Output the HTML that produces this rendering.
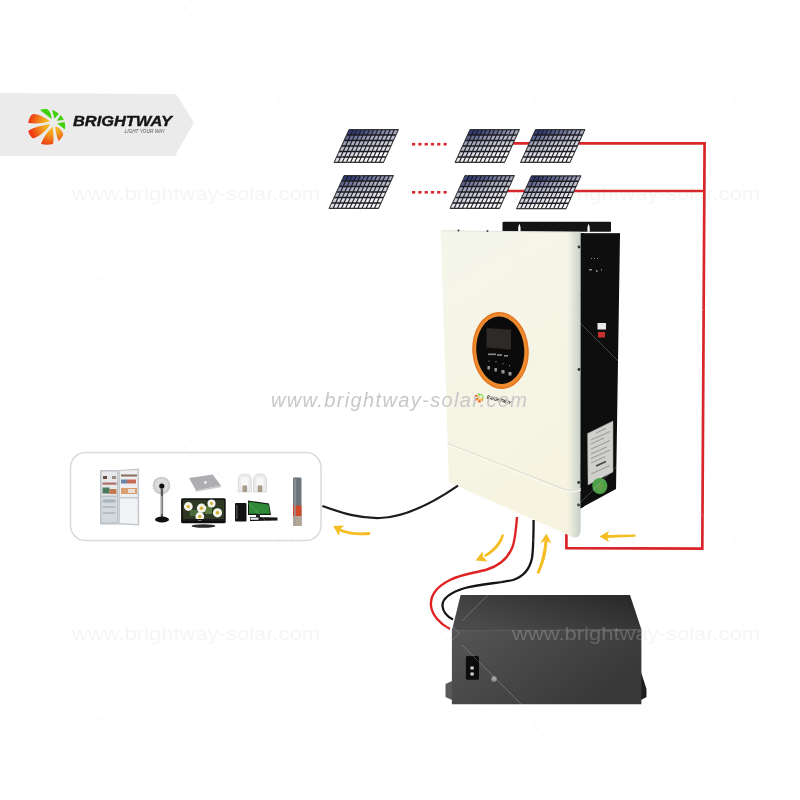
<!DOCTYPE html>
<html><head><meta charset="utf-8">
<style>
html,body{margin:0;padding:0;background:#fff;width:800px;height:800px;overflow:hidden}
svg{position:absolute;left:0;top:0;display:block;will-change:transform}
</style></head>
<body>
<svg width="800" height="800" viewBox="0 0 800 800">
<defs>
  <radialGradient id="og" cx="52.5" cy="123.5" r="23" gradientUnits="userSpaceOnUse">
    <stop offset="0" stop-color="#f6cf1c"/>
    <stop offset="0.45" stop-color="#f2a020"/>
    <stop offset="1" stop-color="#ee3a12"/>
  </radialGradient>
  <linearGradient id="bevel" x1="0" x2="1" y1="0" y2="0">
    <stop offset="0" stop-color="#f4f5e9" stop-opacity="0"/>
    <stop offset="0.45" stop-color="#e4e7da"/>
    <stop offset="0.85" stop-color="#cfd5cb"/>
    <stop offset="1" stop-color="#c4cbc2"/>
  </linearGradient>
  <linearGradient id="face" x1="0" x2="0.3" y1="0" y2="1">
    <stop offset="0" stop-color="#f5f6eb"/>
    <stop offset="1" stop-color="#f6f3e0"/>
  </linearGradient>
  <linearGradient id="battop" x1="0" x2="1" y1="0.6" y2="0">
    <stop offset="0" stop-color="#4a4a4a"/>
    <stop offset="1" stop-color="#272727"/>
  </linearGradient>
  <linearGradient id="batfront" x1="0" x2="1" y1="0" y2="0.5">
    <stop offset="0" stop-color="#555555"/>
    <stop offset="1" stop-color="#383838"/>
  </linearGradient>
  <clipPath id="batclip"><polygon points="445,594 642,594 648,705 445,705"/></clipPath>
</defs>

<!-- banner -->
<polygon points="0,93 176,94 194,122.5 175,156 0,156" fill="#ebebeb"/>
<g>
  <path d="M51.5,119 C48,116 43,112.5 40,110 C42.5,109 45,108.9 47.5,109.25 C50,111 51.5,115 51.7,119 Z" fill="#3fd00c"/>
  <path d="M54.5,118.8 L52,110 C54.5,110.5 57,112 58.75,114 Z" fill="#44d010"/>
  <path d="M56.75,120.7 L60.5,115 C62,116.5 63.2,118.3 63.75,120 Z" fill="#44d010"/>
  <path d="M57.5,123.4 L64.5,122 C65.3,124.5 65.4,127 64.8,129.5 C62.5,127.5 60,125.5 57.5,123.7 Z" fill="#3fd00c"/>
  <path d="M55.3,126.2 C59,127.5 62,130.5 63.3,134 C62.5,137 60.5,139.5 58.5,141 C56.5,136 55.5,131 55.3,126.2 Z" fill="url(#og)"/>
  <path d="M52.5,127 C53.5,132 54,139 53,144 C49,145 45,145 41,144 C43,138 47,132 52.3,127 Z" fill="url(#og)"/>
  <path d="M49.75,124.3 C44,125 34,127 28.2,131 C29,134.5 31,137 33,138.5 C40,136 46,131 49.75,125 Z" fill="url(#og)"/>
  <path d="M49.5,121 C45,117.5 40,114.5 34,114 C31,114 29,118 28.2,123 C35,124 43,123.5 49.5,121.5 Z" fill="url(#og)"/>
</g>
<text x="73" y="126" font-family="Liberation Sans" font-weight="bold" font-style="italic" font-size="15" fill="#151515" stroke="#151515" stroke-width="0.4" textLength="99" lengthAdjust="spacingAndGlyphs">BRIGHTWAY</text>
<text x="124.5" y="133.2" font-family="Liberation Sans" font-style="italic" font-size="5" fill="#555" textLength="40.5" lengthAdjust="spacingAndGlyphs">LIGHT YOUR WAY</text>

<!-- watermarks faint -->
<g font-family="Liberation Sans" font-size="19" fill="#f5f5f5">
  <text x="72" y="200" textLength="248" lengthAdjust="spacingAndGlyphs">www.brightway-solar.com</text>
  <text x="512" y="200" textLength="248" lengthAdjust="spacingAndGlyphs">www.brightway-solar.com</text>
  <text x="72" y="640" textLength="248" lengthAdjust="spacingAndGlyphs">www.brightway-solar.com</text>
  <text x="512" y="640" textLength="248" lengthAdjust="spacingAndGlyphs">www.brightway-solar.com</text>
</g>

<!-- red wires -->
<g stroke="#d8262a" stroke-width="2.7" fill="none" stroke-linejoin="miter">
  <polyline points="500,143.3 704.6,143.3"/>
  <polyline points="495,191 703.8,191"/>
  <polyline points="704.6,142 702.3,548.6 566.4,548.2 566.4,534"/>
</g>

<!-- panels -->
<polygon points="349.00,129.50 398.50,129.50 383.50,162.50 334.00,162.50" fill="#1c1c22" stroke="#2a2a2a" stroke-width="0.9"/>
<polygon points="349.29,130.22 352.18,130.22 350.33,134.28 347.44,134.28" fill="#323c73"/>
<polygon points="353.42,130.22 356.31,130.22 354.46,134.28 351.57,134.28" fill="#323c73"/>
<polygon points="357.54,130.22 360.43,130.22 358.58,134.28 355.69,134.28" fill="#394377"/>
<polygon points="361.67,130.22 364.56,130.22 362.71,134.28 359.82,134.28" fill="#454e7f"/>
<polygon points="365.79,130.22 368.68,130.22 366.83,134.28 363.94,134.28" fill="#515987"/>
<polygon points="369.92,130.22 372.81,130.22 370.96,134.28 368.07,134.28" fill="#5d648f"/>
<polygon points="374.04,130.22 376.93,130.22 375.08,134.28 372.19,134.28" fill="#696f97"/>
<polygon points="378.17,130.22 381.06,130.22 379.21,134.28 376.32,134.28" fill="#757b9e"/>
<polygon points="382.29,130.22 385.18,130.22 383.33,134.28 380.44,134.28" fill="#8186a6"/>
<polygon points="386.42,130.22 389.31,130.22 387.46,134.28 384.57,134.28" fill="#8d91ae"/>
<polygon points="390.54,130.22 393.43,130.22 391.58,134.28 388.69,134.28" fill="#999cb6"/>
<polygon points="394.67,130.22 397.56,130.22 395.71,134.28 392.82,134.28" fill="#a5a8be"/>
<polygon points="346.79,135.72 349.68,135.72 347.83,139.78 344.94,139.78" fill="#5c648e"/>
<polygon points="350.92,135.72 353.81,135.72 351.96,139.78 349.07,139.78" fill="#686f96"/>
<polygon points="355.04,135.72 357.93,135.72 356.08,139.78 353.19,139.78" fill="#747a9e"/>
<polygon points="359.17,135.72 362.06,135.72 360.21,139.78 357.32,139.78" fill="#8085a6"/>
<polygon points="363.29,135.72 366.18,135.72 364.33,139.78 361.44,139.78" fill="#8c90ae"/>
<polygon points="367.42,135.72 370.31,135.72 368.46,139.78 365.57,139.78" fill="#989cb5"/>
<polygon points="371.54,135.72 374.43,135.72 372.58,139.78 369.69,139.78" fill="#a4a7bd"/>
<polygon points="375.67,135.72 378.56,135.72 376.71,139.78 373.82,139.78" fill="#a9acc0"/>
<polygon points="379.79,135.72 382.68,135.72 380.83,139.78 377.94,139.78" fill="#adb0c4"/>
<polygon points="383.92,135.72 386.81,135.72 384.96,139.78 382.07,139.78" fill="#b2b4c7"/>
<polygon points="388.04,135.72 390.93,135.72 389.08,139.78 386.19,139.78" fill="#b6b9ca"/>
<polygon points="392.17,135.72 395.06,135.72 393.21,139.78 390.32,139.78" fill="#bbbdcd"/>
<polygon points="344.29,141.22 347.18,141.22 345.33,145.28 342.44,145.28" fill="#979bb5"/>
<polygon points="348.42,141.22 351.31,141.22 349.46,145.28 346.57,145.28" fill="#a3a6bd"/>
<polygon points="352.54,141.22 355.43,141.22 353.58,145.28 350.69,145.28" fill="#a9abc0"/>
<polygon points="356.67,141.22 359.56,141.22 357.71,145.28 354.82,145.28" fill="#adb0c3"/>
<polygon points="360.79,141.22 363.68,141.22 361.83,145.28 358.94,145.28" fill="#b1b4c7"/>
<polygon points="364.92,141.22 367.81,141.22 365.96,145.28 363.07,145.28" fill="#b6b8ca"/>
<polygon points="369.04,141.22 371.93,141.22 370.08,145.28 367.19,145.28" fill="#babdcd"/>
<polygon points="373.17,141.22 376.06,141.22 374.21,145.28 371.32,145.28" fill="#bfc1d0"/>
<polygon points="377.29,141.22 380.18,141.22 378.33,145.28 375.44,145.28" fill="#c3c5d3"/>
<polygon points="381.42,141.22 384.31,141.22 382.46,145.28 379.57,145.28" fill="#c8cad6"/>
<polygon points="385.54,141.22 388.43,141.22 386.58,145.28 383.69,145.28" fill="#ccced9"/>
<polygon points="389.67,141.22 392.56,141.22 390.71,145.28 387.82,145.28" fill="#d1d2dd"/>
<polygon points="341.79,146.72 344.68,146.72 342.83,150.78 339.94,150.78" fill="#b6b8ca"/>
<polygon points="345.92,146.72 348.81,146.72 346.96,150.78 344.07,150.78" fill="#babccd"/>
<polygon points="350.04,146.72 352.93,146.72 351.08,150.78 348.19,150.78" fill="#bfc1d0"/>
<polygon points="354.17,146.72 357.06,146.72 355.21,150.78 352.32,150.78" fill="#c3c5d3"/>
<polygon points="358.29,146.72 361.18,146.72 359.33,150.78 356.44,150.78" fill="#c8c9d6"/>
<polygon points="362.42,146.72 365.31,146.72 363.46,150.78 360.57,150.78" fill="#ccced9"/>
<polygon points="366.54,146.72 369.43,146.72 367.58,150.78 364.69,150.78" fill="#d1d2dc"/>
<polygon points="370.67,146.72 373.56,146.72 371.71,150.78 368.82,150.78" fill="#d5d6df"/>
<polygon points="374.79,146.72 377.68,146.72 375.83,150.78 372.94,150.78" fill="#dadbe3"/>
<polygon points="378.92,146.72 381.81,146.72 379.96,150.78 377.07,150.78" fill="#dedfe6"/>
<polygon points="383.04,146.72 385.93,146.72 384.08,150.78 381.19,150.78" fill="#e2e3e9"/>
<polygon points="387.17,146.72 390.06,146.72 388.21,150.78 385.32,150.78" fill="#e7e7ec"/>
<polygon points="339.29,152.22 342.18,152.22 340.33,156.28 337.44,156.28" fill="#cccdd9"/>
<polygon points="343.42,152.22 346.31,152.22 344.46,156.28 341.57,156.28" fill="#d0d2dc"/>
<polygon points="347.54,152.22 350.43,152.22 348.58,156.28 345.69,156.28" fill="#d5d6df"/>
<polygon points="351.67,152.22 354.56,152.22 352.71,156.28 349.82,156.28" fill="#d9dae2"/>
<polygon points="355.79,152.22 358.68,152.22 356.83,156.28 353.94,156.28" fill="#dedfe6"/>
<polygon points="359.92,152.22 362.81,152.22 360.96,156.28 358.07,156.28" fill="#e2e3e9"/>
<polygon points="364.04,152.22 366.93,152.22 365.08,156.28 362.19,156.28" fill="#e7e7ec"/>
<polygon points="368.17,152.22 371.06,152.22 369.21,156.28 366.32,156.28" fill="#ebecef"/>
<polygon points="372.29,152.22 375.18,152.22 373.33,156.28 370.44,156.28" fill="#f0f0f2"/>
<polygon points="376.42,152.22 379.31,152.22 377.46,156.28 374.57,156.28" fill="#f4f4f5"/>
<polygon points="380.54,152.22 383.43,152.22 381.58,156.28 378.69,156.28" fill="#f5f5f6"/>
<polygon points="384.67,152.22 387.56,152.22 385.71,156.28 382.82,156.28" fill="#f5f5f6"/>
<polygon points="336.79,157.72 339.68,157.72 337.83,161.78 334.94,161.78" fill="#e2e3e9"/>
<polygon points="340.92,157.72 343.81,157.72 341.96,161.78 339.07,161.78" fill="#e7e7ec"/>
<polygon points="345.04,157.72 347.93,157.72 346.08,161.78 343.19,161.78" fill="#ebebef"/>
<polygon points="349.17,157.72 352.06,157.72 350.21,161.78 347.32,161.78" fill="#eff0f2"/>
<polygon points="353.29,157.72 356.18,157.72 354.33,161.78 351.44,161.78" fill="#f4f4f5"/>
<polygon points="357.42,157.72 360.31,157.72 358.46,161.78 355.57,161.78" fill="#f5f5f6"/>
<polygon points="361.54,157.72 364.43,157.72 362.58,161.78 359.69,161.78" fill="#f5f5f6"/>
<polygon points="365.67,157.72 368.56,157.72 366.71,161.78 363.82,161.78" fill="#f5f5f6"/>
<polygon points="369.79,157.72 372.68,157.72 370.83,161.78 367.94,161.78" fill="#f5f5f6"/>
<polygon points="373.92,157.72 376.81,157.72 374.96,161.78 372.07,161.78" fill="#f5f5f6"/>
<polygon points="378.04,157.72 380.93,157.72 379.08,161.78 376.19,161.78" fill="#f5f5f6"/>
<polygon points="382.17,157.72 385.06,157.72 383.21,161.78 380.32,161.78" fill="#f5f5f6"/>
<polygon points="470.00,129.50 519.50,129.50 504.50,162.50 455.00,162.50" fill="#1c1c22" stroke="#2a2a2a" stroke-width="0.9"/>
<polygon points="470.29,130.22 473.18,130.22 471.33,134.28 468.44,134.28" fill="#323c73"/>
<polygon points="474.42,130.22 477.31,130.22 475.46,134.28 472.57,134.28" fill="#323c73"/>
<polygon points="478.54,130.22 481.43,130.22 479.58,134.28 476.69,134.28" fill="#394377"/>
<polygon points="482.67,130.22 485.56,130.22 483.71,134.28 480.82,134.28" fill="#454e7f"/>
<polygon points="486.79,130.22 489.68,130.22 487.83,134.28 484.94,134.28" fill="#515987"/>
<polygon points="490.92,130.22 493.81,130.22 491.96,134.28 489.07,134.28" fill="#5d648f"/>
<polygon points="495.04,130.22 497.93,130.22 496.08,134.28 493.19,134.28" fill="#696f97"/>
<polygon points="499.17,130.22 502.06,130.22 500.21,134.28 497.32,134.28" fill="#757b9e"/>
<polygon points="503.29,130.22 506.18,130.22 504.33,134.28 501.44,134.28" fill="#8186a6"/>
<polygon points="507.42,130.22 510.31,130.22 508.46,134.28 505.57,134.28" fill="#8d91ae"/>
<polygon points="511.54,130.22 514.43,130.22 512.58,134.28 509.69,134.28" fill="#999cb6"/>
<polygon points="515.67,130.22 518.56,130.22 516.71,134.28 513.82,134.28" fill="#a5a8be"/>
<polygon points="467.79,135.72 470.68,135.72 468.83,139.78 465.94,139.78" fill="#5c648e"/>
<polygon points="471.92,135.72 474.81,135.72 472.96,139.78 470.07,139.78" fill="#686f96"/>
<polygon points="476.04,135.72 478.93,135.72 477.08,139.78 474.19,139.78" fill="#747a9e"/>
<polygon points="480.17,135.72 483.06,135.72 481.21,139.78 478.32,139.78" fill="#8085a6"/>
<polygon points="484.29,135.72 487.18,135.72 485.33,139.78 482.44,139.78" fill="#8c90ae"/>
<polygon points="488.42,135.72 491.31,135.72 489.46,139.78 486.57,139.78" fill="#989cb5"/>
<polygon points="492.54,135.72 495.43,135.72 493.58,139.78 490.69,139.78" fill="#a4a7bd"/>
<polygon points="496.67,135.72 499.56,135.72 497.71,139.78 494.82,139.78" fill="#a9acc0"/>
<polygon points="500.79,135.72 503.68,135.72 501.83,139.78 498.94,139.78" fill="#adb0c4"/>
<polygon points="504.92,135.72 507.81,135.72 505.96,139.78 503.07,139.78" fill="#b2b4c7"/>
<polygon points="509.04,135.72 511.93,135.72 510.08,139.78 507.19,139.78" fill="#b6b9ca"/>
<polygon points="513.17,135.72 516.06,135.72 514.21,139.78 511.32,139.78" fill="#bbbdcd"/>
<polygon points="465.29,141.22 468.18,141.22 466.33,145.28 463.44,145.28" fill="#979bb5"/>
<polygon points="469.42,141.22 472.31,141.22 470.46,145.28 467.57,145.28" fill="#a3a6bd"/>
<polygon points="473.54,141.22 476.43,141.22 474.58,145.28 471.69,145.28" fill="#a9abc0"/>
<polygon points="477.67,141.22 480.56,141.22 478.71,145.28 475.82,145.28" fill="#adb0c3"/>
<polygon points="481.79,141.22 484.68,141.22 482.83,145.28 479.94,145.28" fill="#b1b4c7"/>
<polygon points="485.92,141.22 488.81,141.22 486.96,145.28 484.07,145.28" fill="#b6b8ca"/>
<polygon points="490.04,141.22 492.93,141.22 491.08,145.28 488.19,145.28" fill="#babdcd"/>
<polygon points="494.17,141.22 497.06,141.22 495.21,145.28 492.32,145.28" fill="#bfc1d0"/>
<polygon points="498.29,141.22 501.18,141.22 499.33,145.28 496.44,145.28" fill="#c3c5d3"/>
<polygon points="502.42,141.22 505.31,141.22 503.46,145.28 500.57,145.28" fill="#c8cad6"/>
<polygon points="506.54,141.22 509.43,141.22 507.58,145.28 504.69,145.28" fill="#ccced9"/>
<polygon points="510.67,141.22 513.56,141.22 511.71,145.28 508.82,145.28" fill="#d1d2dd"/>
<polygon points="462.79,146.72 465.68,146.72 463.83,150.78 460.94,150.78" fill="#b6b8ca"/>
<polygon points="466.92,146.72 469.81,146.72 467.96,150.78 465.07,150.78" fill="#babccd"/>
<polygon points="471.04,146.72 473.93,146.72 472.08,150.78 469.19,150.78" fill="#bfc1d0"/>
<polygon points="475.17,146.72 478.06,146.72 476.21,150.78 473.32,150.78" fill="#c3c5d3"/>
<polygon points="479.29,146.72 482.18,146.72 480.33,150.78 477.44,150.78" fill="#c8c9d6"/>
<polygon points="483.42,146.72 486.31,146.72 484.46,150.78 481.57,150.78" fill="#ccced9"/>
<polygon points="487.54,146.72 490.43,146.72 488.58,150.78 485.69,150.78" fill="#d1d2dc"/>
<polygon points="491.67,146.72 494.56,146.72 492.71,150.78 489.82,150.78" fill="#d5d6df"/>
<polygon points="495.79,146.72 498.68,146.72 496.83,150.78 493.94,150.78" fill="#dadbe3"/>
<polygon points="499.92,146.72 502.81,146.72 500.96,150.78 498.07,150.78" fill="#dedfe6"/>
<polygon points="504.04,146.72 506.93,146.72 505.08,150.78 502.19,150.78" fill="#e2e3e9"/>
<polygon points="508.17,146.72 511.06,146.72 509.21,150.78 506.32,150.78" fill="#e7e7ec"/>
<polygon points="460.29,152.22 463.18,152.22 461.33,156.28 458.44,156.28" fill="#cccdd9"/>
<polygon points="464.42,152.22 467.31,152.22 465.46,156.28 462.57,156.28" fill="#d0d2dc"/>
<polygon points="468.54,152.22 471.43,152.22 469.58,156.28 466.69,156.28" fill="#d5d6df"/>
<polygon points="472.67,152.22 475.56,152.22 473.71,156.28 470.82,156.28" fill="#d9dae2"/>
<polygon points="476.79,152.22 479.68,152.22 477.83,156.28 474.94,156.28" fill="#dedfe6"/>
<polygon points="480.92,152.22 483.81,152.22 481.96,156.28 479.07,156.28" fill="#e2e3e9"/>
<polygon points="485.04,152.22 487.93,152.22 486.08,156.28 483.19,156.28" fill="#e7e7ec"/>
<polygon points="489.17,152.22 492.06,152.22 490.21,156.28 487.32,156.28" fill="#ebecef"/>
<polygon points="493.29,152.22 496.18,152.22 494.33,156.28 491.44,156.28" fill="#f0f0f2"/>
<polygon points="497.42,152.22 500.31,152.22 498.46,156.28 495.57,156.28" fill="#f4f4f5"/>
<polygon points="501.54,152.22 504.43,152.22 502.58,156.28 499.69,156.28" fill="#f5f5f6"/>
<polygon points="505.67,152.22 508.56,152.22 506.71,156.28 503.82,156.28" fill="#f5f5f6"/>
<polygon points="457.79,157.72 460.68,157.72 458.83,161.78 455.94,161.78" fill="#e2e3e9"/>
<polygon points="461.92,157.72 464.81,157.72 462.96,161.78 460.07,161.78" fill="#e7e7ec"/>
<polygon points="466.04,157.72 468.93,157.72 467.08,161.78 464.19,161.78" fill="#ebebef"/>
<polygon points="470.17,157.72 473.06,157.72 471.21,161.78 468.32,161.78" fill="#eff0f2"/>
<polygon points="474.29,157.72 477.18,157.72 475.33,161.78 472.44,161.78" fill="#f4f4f5"/>
<polygon points="478.42,157.72 481.31,157.72 479.46,161.78 476.57,161.78" fill="#f5f5f6"/>
<polygon points="482.54,157.72 485.43,157.72 483.58,161.78 480.69,161.78" fill="#f5f5f6"/>
<polygon points="486.67,157.72 489.56,157.72 487.71,161.78 484.82,161.78" fill="#f5f5f6"/>
<polygon points="490.79,157.72 493.68,157.72 491.83,161.78 488.94,161.78" fill="#f5f5f6"/>
<polygon points="494.92,157.72 497.81,157.72 495.96,161.78 493.07,161.78" fill="#f5f5f6"/>
<polygon points="499.04,157.72 501.93,157.72 500.08,161.78 497.19,161.78" fill="#f5f5f6"/>
<polygon points="503.17,157.72 506.06,157.72 504.21,161.78 501.32,161.78" fill="#f5f5f6"/>
<polygon points="535.50,129.50 585.00,129.50 570.00,162.50 520.50,162.50" fill="#1c1c22" stroke="#2a2a2a" stroke-width="0.9"/>
<polygon points="535.79,130.22 538.68,130.22 536.83,134.28 533.94,134.28" fill="#323c73"/>
<polygon points="539.92,130.22 542.81,130.22 540.96,134.28 538.07,134.28" fill="#323c73"/>
<polygon points="544.04,130.22 546.93,130.22 545.08,134.28 542.19,134.28" fill="#394377"/>
<polygon points="548.17,130.22 551.06,130.22 549.21,134.28 546.32,134.28" fill="#454e7f"/>
<polygon points="552.29,130.22 555.18,130.22 553.33,134.28 550.44,134.28" fill="#515987"/>
<polygon points="556.42,130.22 559.31,130.22 557.46,134.28 554.57,134.28" fill="#5d648f"/>
<polygon points="560.54,130.22 563.43,130.22 561.58,134.28 558.69,134.28" fill="#696f97"/>
<polygon points="564.67,130.22 567.56,130.22 565.71,134.28 562.82,134.28" fill="#757b9e"/>
<polygon points="568.79,130.22 571.68,130.22 569.83,134.28 566.94,134.28" fill="#8186a6"/>
<polygon points="572.92,130.22 575.81,130.22 573.96,134.28 571.07,134.28" fill="#8d91ae"/>
<polygon points="577.04,130.22 579.93,130.22 578.08,134.28 575.19,134.28" fill="#999cb6"/>
<polygon points="581.17,130.22 584.06,130.22 582.21,134.28 579.32,134.28" fill="#a5a8be"/>
<polygon points="533.29,135.72 536.18,135.72 534.33,139.78 531.44,139.78" fill="#5c648e"/>
<polygon points="537.42,135.72 540.31,135.72 538.46,139.78 535.57,139.78" fill="#686f96"/>
<polygon points="541.54,135.72 544.43,135.72 542.58,139.78 539.69,139.78" fill="#747a9e"/>
<polygon points="545.67,135.72 548.56,135.72 546.71,139.78 543.82,139.78" fill="#8085a6"/>
<polygon points="549.79,135.72 552.68,135.72 550.83,139.78 547.94,139.78" fill="#8c90ae"/>
<polygon points="553.92,135.72 556.81,135.72 554.96,139.78 552.07,139.78" fill="#989cb5"/>
<polygon points="558.04,135.72 560.93,135.72 559.08,139.78 556.19,139.78" fill="#a4a7bd"/>
<polygon points="562.17,135.72 565.06,135.72 563.21,139.78 560.32,139.78" fill="#a9acc0"/>
<polygon points="566.29,135.72 569.18,135.72 567.33,139.78 564.44,139.78" fill="#adb0c4"/>
<polygon points="570.42,135.72 573.31,135.72 571.46,139.78 568.57,139.78" fill="#b2b4c7"/>
<polygon points="574.54,135.72 577.43,135.72 575.58,139.78 572.69,139.78" fill="#b6b9ca"/>
<polygon points="578.67,135.72 581.56,135.72 579.71,139.78 576.82,139.78" fill="#bbbdcd"/>
<polygon points="530.79,141.22 533.68,141.22 531.83,145.28 528.94,145.28" fill="#979bb5"/>
<polygon points="534.92,141.22 537.81,141.22 535.96,145.28 533.07,145.28" fill="#a3a6bd"/>
<polygon points="539.04,141.22 541.93,141.22 540.08,145.28 537.19,145.28" fill="#a9abc0"/>
<polygon points="543.17,141.22 546.06,141.22 544.21,145.28 541.32,145.28" fill="#adb0c3"/>
<polygon points="547.29,141.22 550.18,141.22 548.33,145.28 545.44,145.28" fill="#b1b4c7"/>
<polygon points="551.42,141.22 554.31,141.22 552.46,145.28 549.57,145.28" fill="#b6b8ca"/>
<polygon points="555.54,141.22 558.43,141.22 556.58,145.28 553.69,145.28" fill="#babdcd"/>
<polygon points="559.67,141.22 562.56,141.22 560.71,145.28 557.82,145.28" fill="#bfc1d0"/>
<polygon points="563.79,141.22 566.68,141.22 564.83,145.28 561.94,145.28" fill="#c3c5d3"/>
<polygon points="567.92,141.22 570.81,141.22 568.96,145.28 566.07,145.28" fill="#c8cad6"/>
<polygon points="572.04,141.22 574.93,141.22 573.08,145.28 570.19,145.28" fill="#ccced9"/>
<polygon points="576.17,141.22 579.06,141.22 577.21,145.28 574.32,145.28" fill="#d1d2dd"/>
<polygon points="528.29,146.72 531.18,146.72 529.33,150.78 526.44,150.78" fill="#b6b8ca"/>
<polygon points="532.42,146.72 535.31,146.72 533.46,150.78 530.57,150.78" fill="#babccd"/>
<polygon points="536.54,146.72 539.43,146.72 537.58,150.78 534.69,150.78" fill="#bfc1d0"/>
<polygon points="540.67,146.72 543.56,146.72 541.71,150.78 538.82,150.78" fill="#c3c5d3"/>
<polygon points="544.79,146.72 547.68,146.72 545.83,150.78 542.94,150.78" fill="#c8c9d6"/>
<polygon points="548.92,146.72 551.81,146.72 549.96,150.78 547.07,150.78" fill="#ccced9"/>
<polygon points="553.04,146.72 555.93,146.72 554.08,150.78 551.19,150.78" fill="#d1d2dc"/>
<polygon points="557.17,146.72 560.06,146.72 558.21,150.78 555.32,150.78" fill="#d5d6df"/>
<polygon points="561.29,146.72 564.18,146.72 562.33,150.78 559.44,150.78" fill="#dadbe3"/>
<polygon points="565.42,146.72 568.31,146.72 566.46,150.78 563.57,150.78" fill="#dedfe6"/>
<polygon points="569.54,146.72 572.43,146.72 570.58,150.78 567.69,150.78" fill="#e2e3e9"/>
<polygon points="573.67,146.72 576.56,146.72 574.71,150.78 571.82,150.78" fill="#e7e7ec"/>
<polygon points="525.79,152.22 528.68,152.22 526.83,156.28 523.94,156.28" fill="#cccdd9"/>
<polygon points="529.92,152.22 532.81,152.22 530.96,156.28 528.07,156.28" fill="#d0d2dc"/>
<polygon points="534.04,152.22 536.93,152.22 535.08,156.28 532.19,156.28" fill="#d5d6df"/>
<polygon points="538.17,152.22 541.06,152.22 539.21,156.28 536.32,156.28" fill="#d9dae2"/>
<polygon points="542.29,152.22 545.18,152.22 543.33,156.28 540.44,156.28" fill="#dedfe6"/>
<polygon points="546.42,152.22 549.31,152.22 547.46,156.28 544.57,156.28" fill="#e2e3e9"/>
<polygon points="550.54,152.22 553.43,152.22 551.58,156.28 548.69,156.28" fill="#e7e7ec"/>
<polygon points="554.67,152.22 557.56,152.22 555.71,156.28 552.82,156.28" fill="#ebecef"/>
<polygon points="558.79,152.22 561.68,152.22 559.83,156.28 556.94,156.28" fill="#f0f0f2"/>
<polygon points="562.92,152.22 565.81,152.22 563.96,156.28 561.07,156.28" fill="#f4f4f5"/>
<polygon points="567.04,152.22 569.93,152.22 568.08,156.28 565.19,156.28" fill="#f5f5f6"/>
<polygon points="571.17,152.22 574.06,152.22 572.21,156.28 569.32,156.28" fill="#f5f5f6"/>
<polygon points="523.29,157.72 526.18,157.72 524.33,161.78 521.44,161.78" fill="#e2e3e9"/>
<polygon points="527.42,157.72 530.31,157.72 528.46,161.78 525.57,161.78" fill="#e7e7ec"/>
<polygon points="531.54,157.72 534.43,157.72 532.58,161.78 529.69,161.78" fill="#ebebef"/>
<polygon points="535.67,157.72 538.56,157.72 536.71,161.78 533.82,161.78" fill="#eff0f2"/>
<polygon points="539.79,157.72 542.68,157.72 540.83,161.78 537.94,161.78" fill="#f4f4f5"/>
<polygon points="543.92,157.72 546.81,157.72 544.96,161.78 542.07,161.78" fill="#f5f5f6"/>
<polygon points="548.04,157.72 550.93,157.72 549.08,161.78 546.19,161.78" fill="#f5f5f6"/>
<polygon points="552.17,157.72 555.06,157.72 553.21,161.78 550.32,161.78" fill="#f5f5f6"/>
<polygon points="556.29,157.72 559.18,157.72 557.33,161.78 554.44,161.78" fill="#f5f5f6"/>
<polygon points="560.42,157.72 563.31,157.72 561.46,161.78 558.57,161.78" fill="#f5f5f6"/>
<polygon points="564.54,157.72 567.43,157.72 565.58,161.78 562.69,161.78" fill="#f5f5f6"/>
<polygon points="568.67,157.72 571.56,157.72 569.71,161.78 566.82,161.78" fill="#f5f5f6"/>
<polygon points="344.00,175.50 393.50,175.50 378.50,208.50 329.00,208.50" fill="#1c1c22" stroke="#2a2a2a" stroke-width="0.9"/>
<polygon points="344.29,176.22 347.18,176.22 345.33,180.28 342.44,180.28" fill="#323c73"/>
<polygon points="348.42,176.22 351.31,176.22 349.46,180.28 346.57,180.28" fill="#323c73"/>
<polygon points="352.54,176.22 355.43,176.22 353.58,180.28 350.69,180.28" fill="#394377"/>
<polygon points="356.67,176.22 359.56,176.22 357.71,180.28 354.82,180.28" fill="#454e7f"/>
<polygon points="360.79,176.22 363.68,176.22 361.83,180.28 358.94,180.28" fill="#515987"/>
<polygon points="364.92,176.22 367.81,176.22 365.96,180.28 363.07,180.28" fill="#5d648f"/>
<polygon points="369.04,176.22 371.93,176.22 370.08,180.28 367.19,180.28" fill="#696f97"/>
<polygon points="373.17,176.22 376.06,176.22 374.21,180.28 371.32,180.28" fill="#757b9e"/>
<polygon points="377.29,176.22 380.18,176.22 378.33,180.28 375.44,180.28" fill="#8186a6"/>
<polygon points="381.42,176.22 384.31,176.22 382.46,180.28 379.57,180.28" fill="#8d91ae"/>
<polygon points="385.54,176.22 388.43,176.22 386.58,180.28 383.69,180.28" fill="#999cb6"/>
<polygon points="389.67,176.22 392.56,176.22 390.71,180.28 387.82,180.28" fill="#a5a8be"/>
<polygon points="341.79,181.72 344.68,181.72 342.83,185.78 339.94,185.78" fill="#5c648e"/>
<polygon points="345.92,181.72 348.81,181.72 346.96,185.78 344.07,185.78" fill="#686f96"/>
<polygon points="350.04,181.72 352.93,181.72 351.08,185.78 348.19,185.78" fill="#747a9e"/>
<polygon points="354.17,181.72 357.06,181.72 355.21,185.78 352.32,185.78" fill="#8085a6"/>
<polygon points="358.29,181.72 361.18,181.72 359.33,185.78 356.44,185.78" fill="#8c90ae"/>
<polygon points="362.42,181.72 365.31,181.72 363.46,185.78 360.57,185.78" fill="#989cb5"/>
<polygon points="366.54,181.72 369.43,181.72 367.58,185.78 364.69,185.78" fill="#a4a7bd"/>
<polygon points="370.67,181.72 373.56,181.72 371.71,185.78 368.82,185.78" fill="#a9acc0"/>
<polygon points="374.79,181.72 377.68,181.72 375.83,185.78 372.94,185.78" fill="#adb0c4"/>
<polygon points="378.92,181.72 381.81,181.72 379.96,185.78 377.07,185.78" fill="#b2b4c7"/>
<polygon points="383.04,181.72 385.93,181.72 384.08,185.78 381.19,185.78" fill="#b6b9ca"/>
<polygon points="387.17,181.72 390.06,181.72 388.21,185.78 385.32,185.78" fill="#bbbdcd"/>
<polygon points="339.29,187.22 342.18,187.22 340.33,191.28 337.44,191.28" fill="#979bb5"/>
<polygon points="343.42,187.22 346.31,187.22 344.46,191.28 341.57,191.28" fill="#a3a6bd"/>
<polygon points="347.54,187.22 350.43,187.22 348.58,191.28 345.69,191.28" fill="#a9abc0"/>
<polygon points="351.67,187.22 354.56,187.22 352.71,191.28 349.82,191.28" fill="#adb0c3"/>
<polygon points="355.79,187.22 358.68,187.22 356.83,191.28 353.94,191.28" fill="#b1b4c7"/>
<polygon points="359.92,187.22 362.81,187.22 360.96,191.28 358.07,191.28" fill="#b6b8ca"/>
<polygon points="364.04,187.22 366.93,187.22 365.08,191.28 362.19,191.28" fill="#babdcd"/>
<polygon points="368.17,187.22 371.06,187.22 369.21,191.28 366.32,191.28" fill="#bfc1d0"/>
<polygon points="372.29,187.22 375.18,187.22 373.33,191.28 370.44,191.28" fill="#c3c5d3"/>
<polygon points="376.42,187.22 379.31,187.22 377.46,191.28 374.57,191.28" fill="#c8cad6"/>
<polygon points="380.54,187.22 383.43,187.22 381.58,191.28 378.69,191.28" fill="#ccced9"/>
<polygon points="384.67,187.22 387.56,187.22 385.71,191.28 382.82,191.28" fill="#d1d2dd"/>
<polygon points="336.79,192.72 339.68,192.72 337.83,196.78 334.94,196.78" fill="#b6b8ca"/>
<polygon points="340.92,192.72 343.81,192.72 341.96,196.78 339.07,196.78" fill="#babccd"/>
<polygon points="345.04,192.72 347.93,192.72 346.08,196.78 343.19,196.78" fill="#bfc1d0"/>
<polygon points="349.17,192.72 352.06,192.72 350.21,196.78 347.32,196.78" fill="#c3c5d3"/>
<polygon points="353.29,192.72 356.18,192.72 354.33,196.78 351.44,196.78" fill="#c8c9d6"/>
<polygon points="357.42,192.72 360.31,192.72 358.46,196.78 355.57,196.78" fill="#ccced9"/>
<polygon points="361.54,192.72 364.43,192.72 362.58,196.78 359.69,196.78" fill="#d1d2dc"/>
<polygon points="365.67,192.72 368.56,192.72 366.71,196.78 363.82,196.78" fill="#d5d6df"/>
<polygon points="369.79,192.72 372.68,192.72 370.83,196.78 367.94,196.78" fill="#dadbe3"/>
<polygon points="373.92,192.72 376.81,192.72 374.96,196.78 372.07,196.78" fill="#dedfe6"/>
<polygon points="378.04,192.72 380.93,192.72 379.08,196.78 376.19,196.78" fill="#e2e3e9"/>
<polygon points="382.17,192.72 385.06,192.72 383.21,196.78 380.32,196.78" fill="#e7e7ec"/>
<polygon points="334.29,198.22 337.18,198.22 335.33,202.28 332.44,202.28" fill="#cccdd9"/>
<polygon points="338.42,198.22 341.31,198.22 339.46,202.28 336.57,202.28" fill="#d0d2dc"/>
<polygon points="342.54,198.22 345.43,198.22 343.58,202.28 340.69,202.28" fill="#d5d6df"/>
<polygon points="346.67,198.22 349.56,198.22 347.71,202.28 344.82,202.28" fill="#d9dae2"/>
<polygon points="350.79,198.22 353.68,198.22 351.83,202.28 348.94,202.28" fill="#dedfe6"/>
<polygon points="354.92,198.22 357.81,198.22 355.96,202.28 353.07,202.28" fill="#e2e3e9"/>
<polygon points="359.04,198.22 361.93,198.22 360.08,202.28 357.19,202.28" fill="#e7e7ec"/>
<polygon points="363.17,198.22 366.06,198.22 364.21,202.28 361.32,202.28" fill="#ebecef"/>
<polygon points="367.29,198.22 370.18,198.22 368.33,202.28 365.44,202.28" fill="#f0f0f2"/>
<polygon points="371.42,198.22 374.31,198.22 372.46,202.28 369.57,202.28" fill="#f4f4f5"/>
<polygon points="375.54,198.22 378.43,198.22 376.58,202.28 373.69,202.28" fill="#f5f5f6"/>
<polygon points="379.67,198.22 382.56,198.22 380.71,202.28 377.82,202.28" fill="#f5f5f6"/>
<polygon points="331.79,203.72 334.68,203.72 332.83,207.78 329.94,207.78" fill="#e2e3e9"/>
<polygon points="335.92,203.72 338.81,203.72 336.96,207.78 334.07,207.78" fill="#e7e7ec"/>
<polygon points="340.04,203.72 342.93,203.72 341.08,207.78 338.19,207.78" fill="#ebebef"/>
<polygon points="344.17,203.72 347.06,203.72 345.21,207.78 342.32,207.78" fill="#eff0f2"/>
<polygon points="348.29,203.72 351.18,203.72 349.33,207.78 346.44,207.78" fill="#f4f4f5"/>
<polygon points="352.42,203.72 355.31,203.72 353.46,207.78 350.57,207.78" fill="#f5f5f6"/>
<polygon points="356.54,203.72 359.43,203.72 357.58,207.78 354.69,207.78" fill="#f5f5f6"/>
<polygon points="360.67,203.72 363.56,203.72 361.71,207.78 358.82,207.78" fill="#f5f5f6"/>
<polygon points="364.79,203.72 367.68,203.72 365.83,207.78 362.94,207.78" fill="#f5f5f6"/>
<polygon points="368.92,203.72 371.81,203.72 369.96,207.78 367.07,207.78" fill="#f5f5f6"/>
<polygon points="373.04,203.72 375.93,203.72 374.08,207.78 371.19,207.78" fill="#f5f5f6"/>
<polygon points="377.17,203.72 380.06,203.72 378.21,207.78 375.32,207.78" fill="#f5f5f6"/>
<polygon points="465.00,175.50 514.50,175.50 499.50,208.50 450.00,208.50" fill="#1c1c22" stroke="#2a2a2a" stroke-width="0.9"/>
<polygon points="465.29,176.22 468.18,176.22 466.33,180.28 463.44,180.28" fill="#323c73"/>
<polygon points="469.42,176.22 472.31,176.22 470.46,180.28 467.57,180.28" fill="#323c73"/>
<polygon points="473.54,176.22 476.43,176.22 474.58,180.28 471.69,180.28" fill="#394377"/>
<polygon points="477.67,176.22 480.56,176.22 478.71,180.28 475.82,180.28" fill="#454e7f"/>
<polygon points="481.79,176.22 484.68,176.22 482.83,180.28 479.94,180.28" fill="#515987"/>
<polygon points="485.92,176.22 488.81,176.22 486.96,180.28 484.07,180.28" fill="#5d648f"/>
<polygon points="490.04,176.22 492.93,176.22 491.08,180.28 488.19,180.28" fill="#696f97"/>
<polygon points="494.17,176.22 497.06,176.22 495.21,180.28 492.32,180.28" fill="#757b9e"/>
<polygon points="498.29,176.22 501.18,176.22 499.33,180.28 496.44,180.28" fill="#8186a6"/>
<polygon points="502.42,176.22 505.31,176.22 503.46,180.28 500.57,180.28" fill="#8d91ae"/>
<polygon points="506.54,176.22 509.43,176.22 507.58,180.28 504.69,180.28" fill="#999cb6"/>
<polygon points="510.67,176.22 513.56,176.22 511.71,180.28 508.82,180.28" fill="#a5a8be"/>
<polygon points="462.79,181.72 465.68,181.72 463.83,185.78 460.94,185.78" fill="#5c648e"/>
<polygon points="466.92,181.72 469.81,181.72 467.96,185.78 465.07,185.78" fill="#686f96"/>
<polygon points="471.04,181.72 473.93,181.72 472.08,185.78 469.19,185.78" fill="#747a9e"/>
<polygon points="475.17,181.72 478.06,181.72 476.21,185.78 473.32,185.78" fill="#8085a6"/>
<polygon points="479.29,181.72 482.18,181.72 480.33,185.78 477.44,185.78" fill="#8c90ae"/>
<polygon points="483.42,181.72 486.31,181.72 484.46,185.78 481.57,185.78" fill="#989cb5"/>
<polygon points="487.54,181.72 490.43,181.72 488.58,185.78 485.69,185.78" fill="#a4a7bd"/>
<polygon points="491.67,181.72 494.56,181.72 492.71,185.78 489.82,185.78" fill="#a9acc0"/>
<polygon points="495.79,181.72 498.68,181.72 496.83,185.78 493.94,185.78" fill="#adb0c4"/>
<polygon points="499.92,181.72 502.81,181.72 500.96,185.78 498.07,185.78" fill="#b2b4c7"/>
<polygon points="504.04,181.72 506.93,181.72 505.08,185.78 502.19,185.78" fill="#b6b9ca"/>
<polygon points="508.17,181.72 511.06,181.72 509.21,185.78 506.32,185.78" fill="#bbbdcd"/>
<polygon points="460.29,187.22 463.18,187.22 461.33,191.28 458.44,191.28" fill="#979bb5"/>
<polygon points="464.42,187.22 467.31,187.22 465.46,191.28 462.57,191.28" fill="#a3a6bd"/>
<polygon points="468.54,187.22 471.43,187.22 469.58,191.28 466.69,191.28" fill="#a9abc0"/>
<polygon points="472.67,187.22 475.56,187.22 473.71,191.28 470.82,191.28" fill="#adb0c3"/>
<polygon points="476.79,187.22 479.68,187.22 477.83,191.28 474.94,191.28" fill="#b1b4c7"/>
<polygon points="480.92,187.22 483.81,187.22 481.96,191.28 479.07,191.28" fill="#b6b8ca"/>
<polygon points="485.04,187.22 487.93,187.22 486.08,191.28 483.19,191.28" fill="#babdcd"/>
<polygon points="489.17,187.22 492.06,187.22 490.21,191.28 487.32,191.28" fill="#bfc1d0"/>
<polygon points="493.29,187.22 496.18,187.22 494.33,191.28 491.44,191.28" fill="#c3c5d3"/>
<polygon points="497.42,187.22 500.31,187.22 498.46,191.28 495.57,191.28" fill="#c8cad6"/>
<polygon points="501.54,187.22 504.43,187.22 502.58,191.28 499.69,191.28" fill="#ccced9"/>
<polygon points="505.67,187.22 508.56,187.22 506.71,191.28 503.82,191.28" fill="#d1d2dd"/>
<polygon points="457.79,192.72 460.68,192.72 458.83,196.78 455.94,196.78" fill="#b6b8ca"/>
<polygon points="461.92,192.72 464.81,192.72 462.96,196.78 460.07,196.78" fill="#babccd"/>
<polygon points="466.04,192.72 468.93,192.72 467.08,196.78 464.19,196.78" fill="#bfc1d0"/>
<polygon points="470.17,192.72 473.06,192.72 471.21,196.78 468.32,196.78" fill="#c3c5d3"/>
<polygon points="474.29,192.72 477.18,192.72 475.33,196.78 472.44,196.78" fill="#c8c9d6"/>
<polygon points="478.42,192.72 481.31,192.72 479.46,196.78 476.57,196.78" fill="#ccced9"/>
<polygon points="482.54,192.72 485.43,192.72 483.58,196.78 480.69,196.78" fill="#d1d2dc"/>
<polygon points="486.67,192.72 489.56,192.72 487.71,196.78 484.82,196.78" fill="#d5d6df"/>
<polygon points="490.79,192.72 493.68,192.72 491.83,196.78 488.94,196.78" fill="#dadbe3"/>
<polygon points="494.92,192.72 497.81,192.72 495.96,196.78 493.07,196.78" fill="#dedfe6"/>
<polygon points="499.04,192.72 501.93,192.72 500.08,196.78 497.19,196.78" fill="#e2e3e9"/>
<polygon points="503.17,192.72 506.06,192.72 504.21,196.78 501.32,196.78" fill="#e7e7ec"/>
<polygon points="455.29,198.22 458.18,198.22 456.33,202.28 453.44,202.28" fill="#cccdd9"/>
<polygon points="459.42,198.22 462.31,198.22 460.46,202.28 457.57,202.28" fill="#d0d2dc"/>
<polygon points="463.54,198.22 466.43,198.22 464.58,202.28 461.69,202.28" fill="#d5d6df"/>
<polygon points="467.67,198.22 470.56,198.22 468.71,202.28 465.82,202.28" fill="#d9dae2"/>
<polygon points="471.79,198.22 474.68,198.22 472.83,202.28 469.94,202.28" fill="#dedfe6"/>
<polygon points="475.92,198.22 478.81,198.22 476.96,202.28 474.07,202.28" fill="#e2e3e9"/>
<polygon points="480.04,198.22 482.93,198.22 481.08,202.28 478.19,202.28" fill="#e7e7ec"/>
<polygon points="484.17,198.22 487.06,198.22 485.21,202.28 482.32,202.28" fill="#ebecef"/>
<polygon points="488.29,198.22 491.18,198.22 489.33,202.28 486.44,202.28" fill="#f0f0f2"/>
<polygon points="492.42,198.22 495.31,198.22 493.46,202.28 490.57,202.28" fill="#f4f4f5"/>
<polygon points="496.54,198.22 499.43,198.22 497.58,202.28 494.69,202.28" fill="#f5f5f6"/>
<polygon points="500.67,198.22 503.56,198.22 501.71,202.28 498.82,202.28" fill="#f5f5f6"/>
<polygon points="452.79,203.72 455.68,203.72 453.83,207.78 450.94,207.78" fill="#e2e3e9"/>
<polygon points="456.92,203.72 459.81,203.72 457.96,207.78 455.07,207.78" fill="#e7e7ec"/>
<polygon points="461.04,203.72 463.93,203.72 462.08,207.78 459.19,207.78" fill="#ebebef"/>
<polygon points="465.17,203.72 468.06,203.72 466.21,207.78 463.32,207.78" fill="#eff0f2"/>
<polygon points="469.29,203.72 472.18,203.72 470.33,207.78 467.44,207.78" fill="#f4f4f5"/>
<polygon points="473.42,203.72 476.31,203.72 474.46,207.78 471.57,207.78" fill="#f5f5f6"/>
<polygon points="477.54,203.72 480.43,203.72 478.58,207.78 475.69,207.78" fill="#f5f5f6"/>
<polygon points="481.67,203.72 484.56,203.72 482.71,207.78 479.82,207.78" fill="#f5f5f6"/>
<polygon points="485.79,203.72 488.68,203.72 486.83,207.78 483.94,207.78" fill="#f5f5f6"/>
<polygon points="489.92,203.72 492.81,203.72 490.96,207.78 488.07,207.78" fill="#f5f5f6"/>
<polygon points="494.04,203.72 496.93,203.72 495.08,207.78 492.19,207.78" fill="#f5f5f6"/>
<polygon points="498.17,203.72 501.06,203.72 499.21,207.78 496.32,207.78" fill="#f5f5f6"/>
<polygon points="531.50,175.80 581.00,175.80 566.00,208.80 516.50,208.80" fill="#1c1c22" stroke="#2a2a2a" stroke-width="0.9"/>
<polygon points="531.79,176.52 534.68,176.52 532.83,180.59 529.94,180.59" fill="#323c73"/>
<polygon points="535.92,176.52 538.81,176.52 536.96,180.59 534.07,180.59" fill="#323c73"/>
<polygon points="540.04,176.52 542.93,176.52 541.08,180.59 538.19,180.59" fill="#394377"/>
<polygon points="544.17,176.52 547.06,176.52 545.21,180.59 542.32,180.59" fill="#454e7f"/>
<polygon points="548.29,176.52 551.18,176.52 549.33,180.59 546.44,180.59" fill="#515987"/>
<polygon points="552.42,176.52 555.31,176.52 553.46,180.59 550.57,180.59" fill="#5d648f"/>
<polygon points="556.54,176.52 559.43,176.52 557.58,180.59 554.69,180.59" fill="#696f97"/>
<polygon points="560.67,176.52 563.56,176.52 561.71,180.59 558.82,180.59" fill="#757b9e"/>
<polygon points="564.79,176.52 567.68,176.52 565.83,180.59 562.94,180.59" fill="#8186a6"/>
<polygon points="568.92,176.52 571.81,176.52 569.96,180.59 567.07,180.59" fill="#8d91ae"/>
<polygon points="573.04,176.52 575.93,176.52 574.08,180.59 571.19,180.59" fill="#999cb6"/>
<polygon points="577.17,176.52 580.06,176.52 578.21,180.59 575.32,180.59" fill="#a5a8be"/>
<polygon points="529.29,182.02 532.18,182.02 530.33,186.09 527.44,186.09" fill="#5c648e"/>
<polygon points="533.42,182.02 536.31,182.02 534.46,186.09 531.57,186.09" fill="#686f96"/>
<polygon points="537.54,182.02 540.43,182.02 538.58,186.09 535.69,186.09" fill="#747a9e"/>
<polygon points="541.67,182.02 544.56,182.02 542.71,186.09 539.82,186.09" fill="#8085a6"/>
<polygon points="545.79,182.02 548.68,182.02 546.83,186.09 543.94,186.09" fill="#8c90ae"/>
<polygon points="549.92,182.02 552.81,182.02 550.96,186.09 548.07,186.09" fill="#989cb5"/>
<polygon points="554.04,182.02 556.93,182.02 555.08,186.09 552.19,186.09" fill="#a4a7bd"/>
<polygon points="558.17,182.02 561.06,182.02 559.21,186.09 556.32,186.09" fill="#a9acc0"/>
<polygon points="562.29,182.02 565.18,182.02 563.33,186.09 560.44,186.09" fill="#adb0c4"/>
<polygon points="566.42,182.02 569.31,182.02 567.46,186.09 564.57,186.09" fill="#b2b4c7"/>
<polygon points="570.54,182.02 573.43,182.02 571.58,186.09 568.69,186.09" fill="#b6b9ca"/>
<polygon points="574.67,182.02 577.56,182.02 575.71,186.09 572.82,186.09" fill="#bbbdcd"/>
<polygon points="526.79,187.52 529.68,187.52 527.83,191.59 524.94,191.59" fill="#979bb5"/>
<polygon points="530.92,187.52 533.81,187.52 531.96,191.59 529.07,191.59" fill="#a3a6bd"/>
<polygon points="535.04,187.52 537.93,187.52 536.08,191.59 533.19,191.59" fill="#a9abc0"/>
<polygon points="539.17,187.52 542.06,187.52 540.21,191.59 537.32,191.59" fill="#adb0c3"/>
<polygon points="543.29,187.52 546.18,187.52 544.33,191.59 541.44,191.59" fill="#b1b4c7"/>
<polygon points="547.42,187.52 550.31,187.52 548.46,191.59 545.57,191.59" fill="#b6b8ca"/>
<polygon points="551.54,187.52 554.43,187.52 552.58,191.59 549.69,191.59" fill="#babdcd"/>
<polygon points="555.67,187.52 558.56,187.52 556.71,191.59 553.82,191.59" fill="#bfc1d0"/>
<polygon points="559.79,187.52 562.68,187.52 560.83,191.59 557.94,191.59" fill="#c3c5d3"/>
<polygon points="563.92,187.52 566.81,187.52 564.96,191.59 562.07,191.59" fill="#c8cad6"/>
<polygon points="568.04,187.52 570.93,187.52 569.08,191.59 566.19,191.59" fill="#ccced9"/>
<polygon points="572.17,187.52 575.06,187.52 573.21,191.59 570.32,191.59" fill="#d1d2dd"/>
<polygon points="524.29,193.02 527.18,193.02 525.33,197.09 522.44,197.09" fill="#b6b8ca"/>
<polygon points="528.42,193.02 531.31,193.02 529.46,197.09 526.57,197.09" fill="#babccd"/>
<polygon points="532.54,193.02 535.43,193.02 533.58,197.09 530.69,197.09" fill="#bfc1d0"/>
<polygon points="536.67,193.02 539.56,193.02 537.71,197.09 534.82,197.09" fill="#c3c5d3"/>
<polygon points="540.79,193.02 543.68,193.02 541.83,197.09 538.94,197.09" fill="#c8c9d6"/>
<polygon points="544.92,193.02 547.81,193.02 545.96,197.09 543.07,197.09" fill="#ccced9"/>
<polygon points="549.04,193.02 551.93,193.02 550.08,197.09 547.19,197.09" fill="#d1d2dc"/>
<polygon points="553.17,193.02 556.06,193.02 554.21,197.09 551.32,197.09" fill="#d5d6df"/>
<polygon points="557.29,193.02 560.18,193.02 558.33,197.09 555.44,197.09" fill="#dadbe3"/>
<polygon points="561.42,193.02 564.31,193.02 562.46,197.09 559.57,197.09" fill="#dedfe6"/>
<polygon points="565.54,193.02 568.43,193.02 566.58,197.09 563.69,197.09" fill="#e2e3e9"/>
<polygon points="569.67,193.02 572.56,193.02 570.71,197.09 567.82,197.09" fill="#e7e7ec"/>
<polygon points="521.79,198.52 524.68,198.52 522.83,202.59 519.94,202.59" fill="#cccdd9"/>
<polygon points="525.92,198.52 528.81,198.52 526.96,202.59 524.07,202.59" fill="#d0d2dc"/>
<polygon points="530.04,198.52 532.93,198.52 531.08,202.59 528.19,202.59" fill="#d5d6df"/>
<polygon points="534.17,198.52 537.06,198.52 535.21,202.59 532.32,202.59" fill="#d9dae2"/>
<polygon points="538.29,198.52 541.18,198.52 539.33,202.59 536.44,202.59" fill="#dedfe6"/>
<polygon points="542.42,198.52 545.31,198.52 543.46,202.59 540.57,202.59" fill="#e2e3e9"/>
<polygon points="546.54,198.52 549.43,198.52 547.58,202.59 544.69,202.59" fill="#e7e7ec"/>
<polygon points="550.67,198.52 553.56,198.52 551.71,202.59 548.82,202.59" fill="#ebecef"/>
<polygon points="554.79,198.52 557.68,198.52 555.83,202.59 552.94,202.59" fill="#f0f0f2"/>
<polygon points="558.92,198.52 561.81,198.52 559.96,202.59 557.07,202.59" fill="#f4f4f5"/>
<polygon points="563.04,198.52 565.93,198.52 564.08,202.59 561.19,202.59" fill="#f5f5f6"/>
<polygon points="567.17,198.52 570.06,198.52 568.21,202.59 565.32,202.59" fill="#f5f5f6"/>
<polygon points="519.29,204.02 522.18,204.02 520.33,208.09 517.44,208.09" fill="#e2e3e9"/>
<polygon points="523.42,204.02 526.31,204.02 524.46,208.09 521.57,208.09" fill="#e7e7ec"/>
<polygon points="527.54,204.02 530.43,204.02 528.58,208.09 525.69,208.09" fill="#ebebef"/>
<polygon points="531.67,204.02 534.56,204.02 532.71,208.09 529.82,208.09" fill="#eff0f2"/>
<polygon points="535.79,204.02 538.68,204.02 536.83,208.09 533.94,208.09" fill="#f4f4f5"/>
<polygon points="539.92,204.02 542.81,204.02 540.96,208.09 538.07,208.09" fill="#f5f5f6"/>
<polygon points="544.04,204.02 546.93,204.02 545.08,208.09 542.19,208.09" fill="#f5f5f6"/>
<polygon points="548.17,204.02 551.06,204.02 549.21,208.09 546.32,208.09" fill="#f5f5f6"/>
<polygon points="552.29,204.02 555.18,204.02 553.33,208.09 550.44,208.09" fill="#f5f5f6"/>
<polygon points="556.42,204.02 559.31,204.02 557.46,208.09 554.57,208.09" fill="#f5f5f6"/>
<polygon points="560.54,204.02 563.43,204.02 561.58,208.09 558.69,208.09" fill="#f5f5f6"/>
<polygon points="564.67,204.02 567.56,204.02 565.71,208.09 562.82,208.09" fill="#f5f5f6"/>
<rect x="412.0" y="142.9" width="3.2" height="2.6" fill="#d8282a"/>
<rect x="418.3" y="142.9" width="3.2" height="2.6" fill="#d8282a"/>
<rect x="424.6" y="142.9" width="3.2" height="2.6" fill="#d8282a"/>
<rect x="430.9" y="142.9" width="3.2" height="2.6" fill="#d8282a"/>
<rect x="437.2" y="142.9" width="3.2" height="2.6" fill="#d8282a"/>
<rect x="443.5" y="142.9" width="3.2" height="2.6" fill="#d8282a"/>
<rect x="412.0" y="191.0" width="3.2" height="2.6" fill="#d8282a"/>
<rect x="418.3" y="191.0" width="3.2" height="2.6" fill="#d8282a"/>
<rect x="424.6" y="191.0" width="3.2" height="2.6" fill="#d8282a"/>
<rect x="430.9" y="191.0" width="3.2" height="2.6" fill="#d8282a"/>
<rect x="437.2" y="191.0" width="3.2" height="2.6" fill="#d8282a"/>
<rect x="443.5" y="191.0" width="3.2" height="2.6" fill="#d8282a"/>

<!-- inverter bracket -->
<rect x="502.5" y="221.8" width="108.5" height="10" rx="1" fill="#141414"/>
<path d="M519.4,223.5 Q521.2,227 520.6,231.8 L518.2,231.8 Q517.6,227 519.4,223.5 Z" fill="#fff"/>
<path d="M588.6,223.5 Q590.4,227 589.8,231.8 L587.4,231.8 Q586.8,227 588.6,223.5 Z" fill="#fff"/>
<!-- black side -->
<polygon points="580.5,233 620,233 616,489 580,508.5" fill="#0e0e0e"/>
<line x1="581" y1="233.6" x2="620" y2="233.6" stroke="#3a3a3a" stroke-width="1"/>
<!-- side label -->
<polygon points="587.5,433.5 613,421 613,472 588,485" fill="#cfcfcb" stroke="#9a9a98" stroke-width="0.5"/>
<g stroke="#7c7c7a" stroke-width="0.7">
  <line x1="596" y1="433" x2="606" y2="428.5"/>
  <line x1="591" y1="440" x2="610" y2="431.5"/>
  <line x1="591" y1="444" x2="604" y2="438"/>
  <line x1="591" y1="449" x2="610" y2="440.5"/>
  <line x1="591" y1="454" x2="607" y2="446.8"/>
  <line x1="591" y1="458.5" x2="610" y2="450"/>
  <line x1="591" y1="463" x2="605" y2="456.7"/>
  <line x1="596" y1="466" x2="606" y2="461.5" stroke-width="1.6" stroke="#444"/>
  <line x1="591" y1="474" x2="610" y2="465.5"/>
</g>
<ellipse cx="599.8" cy="486" rx="7.6" ry="8" fill="#4ea048"/>
<ellipse cx="600.5" cy="487" rx="3" ry="3.5" fill="#6aa048" opacity="0.8"/>
<rect x="597.5" y="323" width="8.5" height="6.5" fill="#e8e8e8"/>
<rect x="598" y="332" width="7" height="5.5" fill="#c83030"/>
<g fill="#888">
  <rect x="591" y="258" width="1" height="1"/><rect x="594" y="258" width="1" height="1"/><rect x="597" y="258" width="1" height="1"/>
  <rect x="589" y="269" width="3" height="1.5"/><rect x="596" y="270" width="1.5" height="2"/><rect x="601" y="269" width="1" height="1.5"/>
</g>

<!-- front face -->
<path d="M440.6,230.5 L581,232 L580.5,531 Q580,538 574,537.5 L449,482.5 Z" fill="url(#face)"/>
<path d="M565,232 L581,232 L580.5,531 Q580,538 574,537.5 L565,533.5 Z" fill="url(#bevel)"/>
<polygon points="580.7,233.2 584,233.2 584,506.8 580.5,508.5" fill="#0e0e0e"/>
<path d="M447.5,443.4 L565,489.6 Q573,491.5 581,488.6" stroke="#dedfd2" stroke-width="1.1" fill="none"/>
<path d="M447.5,445 L565,491.2 Q573,493.1 581,490.2" stroke="#fdfdf6" stroke-width="1" fill="none"/>
<line x1="441" y1="230.8" x2="581" y2="232.3" stroke="#e0e0d8" stroke-width="0.8"/>
<g fill="#333">
  <circle cx="458.5" cy="230.6" r="1"/>
  <circle cx="487.5" cy="230.9" r="1"/>
  <circle cx="579" cy="247" r="1.4"/>
  <circle cx="579" cy="369.5" r="1.4"/>
  <circle cx="578.7" cy="482.5" r="1.4"/>
  <circle cx="578.5" cy="505" r="1.4"/>
</g>
<!-- display -->
<g transform="rotate(-4 500.5 350.5)">
<ellipse cx="500.5" cy="350.5" rx="28.2" ry="38.6" fill="#e37420"/>
<ellipse cx="500.5" cy="350.5" rx="26.8" ry="37.2" fill="#ee8a2e"/>
<ellipse cx="500.3" cy="350.3" rx="24" ry="33.8" fill="#0b0b0b"/>
</g>
<polygon points="486.5,328 511,329.5 511,349.5 486.5,347.5" fill="#2d2a27"/>
<g fill="#8a8a8a">
  <rect x="488" y="353.5" width="8" height="1.6"/>
  <rect x="497" y="354.2" width="5" height="1.6"/>
  <rect x="504" y="355" width="4" height="1.6"/>
  <rect x="488.5" y="360.5" width="1" height="1.2"/>
  <rect x="495.5" y="361" width="1" height="1.2"/>
  <rect x="502.5" y="363" width="1" height="1.2"/>
  <rect x="509" y="365" width="1" height="1.2"/>
</g>
<g fill="#9a9a9a">
  <rect x="487.5" y="366" width="2.4" height="3.5"/>
  <rect x="494.5" y="368" width="2.4" height="3.5"/>
  <rect x="501.5" y="370" width="3" height="3.5"/>
  <rect x="508.5" y="372" width="3" height="3.5"/>
</g>
<!-- small logo on face -->
<g transform="translate(480.5 397) scale(0.25) translate(-52.5 -123.5)">
  <path d="M51.5,119 C48,116 43,112.5 40,110 C42.5,109 45,108.9 47.5,109.25 C50,111 51.5,115 51.7,119 Z" fill="#3fd00c"/>
  <path d="M54.5,118.8 L52,110 C54.5,110.5 57,112 58.75,114 Z" fill="#44d010"/>
  <path d="M56.75,120.7 L60.5,115 C62,116.5 63.2,118.3 63.75,120 Z" fill="#44d010"/>
  <path d="M57.5,123.4 L64.5,122 C65.3,124.5 65.4,127 64.8,129.5 C62.5,127.5 60,125.5 57.5,123.7 Z" fill="#3fd00c"/>
  <path d="M55.3,126.2 C59,127.5 62,130.5 63.3,134 C62.5,137 60.5,139.5 58.5,141 C56.5,136 55.5,131 55.3,126.2 Z" fill="url(#og)"/>
  <path d="M52.5,127 C53.5,132 54,139 53,144 C49,145 45,145 41,144 C43,138 47,132 52.3,127 Z" fill="url(#og)"/>
  <path d="M49.75,124.3 C44,125 34,127 28.2,131 C29,134.5 31,137 33,138.5 C40,136 46,131 49.75,125 Z" fill="url(#og)"/>
  <path d="M49.5,121 C45,117.5 40,114.5 34,114 C31,114 29,118 28.2,123 C35,124 43,123.5 49.5,121.5 Z" fill="url(#og)"/>
</g>
<text transform="translate(486.5 398.5) rotate(14)" x="0" y="0" font-family="Liberation Sans" font-weight="bold" font-style="italic" font-size="5" fill="#222" textLength="25" lengthAdjust="spacingAndGlyphs">BRIGHTWAY</text>

<!-- center watermark -->
<text x="271" y="406.8" font-family="Liberation Sans" font-style="italic" font-size="20" fill="#c8c8c8" textLength="256" lengthAdjust="spacing">www.brightway-solar.com</text>

<!-- appliance box -->
<rect x="70.5" y="452.5" width="250.5" height="88" rx="15" ry="15" fill="#fff" stroke="#dadada" stroke-width="1.5"/>

<!-- black cable to loads -->
<path d="M322.4,506 C345,514 360,518.5 380,518 C410,517 440,498 458,485.6" stroke="#1c1c1c" stroke-width="2.2" fill="none"/>

<!-- cables to battery -->
<path d="M517,517 C516,530 515,542 512,548 C507,560 498,566 487,569.5 C475,573 462,574 450,580 C436,587 430,596 431,606 C432,615 440,624 450,629" stroke="#e02222" stroke-width="2.4" fill="none"/>
<path d="M533.6,520 C533.5,535 533.5,548 532,558 C530,568 525,576 513,580 C500,583 480,584 465,588 C452,592 442,598 442.5,606 C443,612 448,617 453,619.5" stroke="#151515" stroke-width="2.3" fill="none"/>

<!-- arrows -->
<g fill="#f5bd22">
  <path d="M370,532 C360,533 348,532.5 340,528.5 L339.5,531 C348,535.5 360,535.5 370,535 Z"/>
  <polygon points="333.2,525.9 344,525.5 340,529.5 339,536"/>
  <path d="M502,534 C499,542 494,549 484,555 L485.6,557 C496,551 502,544 504,535 Z"/>
  <polygon points="475.6,560.4 482.5,551.5 483,556.5 487.5,561.5"/>
  <path d="M536.5,573 C541,563 543.5,552 544.5,541 L547.5,541 C547,553 544,564 539,574 Z"/>
  <polygon points="546.5,533.4 540,543.5 545.7,540.5 551.5,543.5"/>
  <path d="M635.5,534.6 L605,535 L605,538 L635.5,536.8 Z"/>
  <polygon points="599.5,536.5 609,531 607,536.5 609,542"/>
</g>

<!-- battery -->
<polygon points="445.5,684 452,681 452,700 445.5,697" fill="#5a5a5a"/>
<polygon points="641,672 646.5,689 646.5,697 641,700" fill="#1e1e1e"/>
<polygon points="460.6,594.9 630,594.9 641.4,629.5 451.9,630.5" fill="url(#battop)"/>
<polygon points="451.9,630.5 641.4,629.5 641.4,704.3 451.9,704.3" fill="url(#batfront)"/>
<line x1="451.9" y1="630.8" x2="641.4" y2="629.8" stroke="#585858" stroke-width="1.3"/>
<rect x="465.9" y="656" width="13.1" height="23.8" rx="1.5" fill="#0c0c0c"/>
<rect x="470.5" y="666.5" width="3.2" height="3" fill="#d8d8d8"/>
<rect x="470.5" y="672.5" width="3.2" height="3" fill="#d8d8d8"/>
<circle cx="494" cy="678.9" r="2.8" fill="#8a8a8a"/>
<circle cx="494" cy="678.9" r="1.6" fill="#a8a8a8"/>
<text x="512" y="640" clip-path="url(#batclip)" font-family="Liberation Sans" font-size="19" fill="rgba(255,255,255,0.2)" textLength="248" lengthAdjust="spacingAndGlyphs">www.brightway-solar.com</text>

<!-- appliances -->
<g id="loads">
  <!-- fridge -->
  <rect x="100" y="470" width="18.5" height="54.5" fill="#bcc2c8"/>
  <rect x="101.5" y="471.5" width="15.5" height="24" fill="#e6e8ea"/>
  <rect x="103" y="476" width="4" height="3" fill="#6a4a40"/>
  <rect x="112" y="476" width="4" height="3" fill="#9a8a80"/>
  <rect x="102.5" y="482.5" width="14" height="2.2" fill="#b07068"/>
  <rect x="102.5" y="487.5" width="7" height="6" fill="#4a7a5a"/>
  <rect x="109.5" y="489" width="7" height="5" fill="#c07a50"/>
  <rect x="101.5" y="497" width="15.5" height="25.5" fill="#d2dade"/>
  <rect x="103" y="499.5" width="12.5" height="3" fill="#a8b4bc"/>
  <rect x="103" y="506" width="12.5" height="2" fill="#b4bec4"/>
  <rect x="103" y="512" width="12.5" height="2" fill="#b4bec4"/>
  <polygon points="118.5,470 139,468.5 139.3,525.5 118.5,524.5" fill="#c4c9ce"/>
  <polygon points="120,471 137.5,470 137.5,497 120,497" fill="#eceef0"/>
  <rect x="121" y="474.5" width="16" height="2" fill="#8a6a5a"/>
  <rect x="121" y="479.5" width="6" height="4" fill="#6a88a8"/>
  <rect x="127" y="479.5" width="9" height="4" fill="#c86a5a"/>
  <rect x="121" y="488" width="16" height="6" fill="#d8a070"/>
  <rect x="128" y="489" width="7" height="4" fill="#e8e0d8"/>
  <polygon points="120,498.5 137.5,498.5 137.8,524 120,523" fill="#f2f3f5"/>
  <!-- fan -->
  <circle cx="161.5" cy="485.5" r="8.8" fill="#c8c8c8"/>
  <circle cx="161.5" cy="485.5" r="7" fill="#dadada"/>
  <circle cx="161.8" cy="486" r="2.6" fill="#0e0e0e"/>
  <rect x="160.7" y="488" width="2.4" height="30" fill="#5a5a5a"/>
  <rect x="161.2" y="496" width="1.2" height="18" fill="#b8b8b8"/>
  <ellipse cx="162" cy="519.5" rx="7" ry="3" fill="#111"/>
  <!-- laptop -->
  <polygon points="189,478 212.6,474.6 221,485.6 196,490.4" fill="#aeaeb2"/>
  <polygon points="195,490.4 221,485.6 221.5,487 196,491.8" fill="#c8c8cc"/>
  <circle cx="205.5" cy="482.5" r="1.4" fill="#f0f0f0"/>
  <!-- tv -->
  <rect x="181.1" y="498.2" width="44.6" height="25" rx="1.5" fill="#0e0e0e"/>
  <rect x="182.8" y="499.8" width="41.4" height="20.5" fill="#2e3822"/>
  <rect x="190" y="510" width="8" height="6" fill="#4a6a3a"/>
  <rect x="205" y="506" width="7" height="8" fill="#5a7a40"/>
  <g fill="#f4f4ec">
    <circle cx="188.3" cy="506.5" r="4.4"/>
    <circle cx="201.5" cy="508.2" r="4.6"/>
    <circle cx="211.5" cy="503.5" r="4"/>
    <circle cx="217.5" cy="512.8" r="4.6"/>
    <circle cx="199.8" cy="516.5" r="4.4"/>
  </g>
  <g fill="#d8b030">
    <circle cx="188.3" cy="506.5" r="1.6"/>
    <circle cx="201.5" cy="508.2" r="1.8"/>
    <circle cx="211.5" cy="503.5" r="1.4"/>
    <circle cx="217.5" cy="512.8" r="1.8"/>
    <circle cx="199.8" cy="516.5" r="1.7"/>
  </g>
  <rect x="182.8" y="519" width="41.4" height="1.5" fill="#1a1a1a"/>
  <ellipse cx="203.5" cy="526" rx="12" ry="1.8" fill="#2a2a2a"/>
  <!-- bulbs -->
  <path d="M238.3,492 L238.3,480 Q238.3,474 244.8,474 Q251.3,474 251.3,480 L251.3,492 Z" fill="#ebebeb" stroke="#d4d4d4" stroke-width="0.8"/>
  <path d="M241,478 Q244.8,476 248.5,478 L248.5,486 L241,486 Z" fill="#f6f6f6"/>
  <rect x="242.6" y="485.5" width="4.4" height="6.5" fill="#a89a88"/>
  <path d="M253.5,492 L253.5,480 Q253.5,474 260,474 Q266.5,474 266.5,480 L266.5,492 Z" fill="#ebebeb" stroke="#d4d4d4" stroke-width="0.8"/>
  <path d="M256.2,478 Q260,476 263.7,478 L263.7,486 L256.2,486 Z" fill="#f6f6f6"/>
  <rect x="257.8" y="485.5" width="4.4" height="6.5" fill="#a89a88"/>
  <!-- computer -->
  <polygon points="248,500.5 269,503.5 271,515 248,515" fill="#101810"/>
  <polygon points="249,501.8 268.5,504.5 270,513.8 249,513.8" fill="#2f8a38"/>
  <rect x="235" y="503" width="11.5" height="18.5" rx="1" fill="#121212"/>
  <rect x="236" y="505" width="1.5" height="14" fill="#4a4a4a"/>
  <rect x="256" y="514" width="4" height="3.5" fill="#222"/>
  <polygon points="250,517 277.5,517.5 277.5,520.5 250,521" fill="#161616"/>
  <rect x="250.5" y="517.6" width="8" height="2.2" fill="#e8e8e8"/>
  <!-- pump -->
  <rect x="293" y="477.5" width="8.5" height="48.5" rx="1" fill="#6c747c"/>
  <rect x="293" y="505.5" width="8.5" height="10.5" fill="#d2482a"/>
  <rect x="293" y="516" width="8.5" height="10" fill="#b4a696"/>
  <rect x="294" y="479" width="1.8" height="46" fill="#9aa0a6" opacity="0.7"/>
</g>
</g>
<mask id="lm"><rect width="800" height="800" fill="#fff"/><polygon points="0,92 176,93 195,122.5 176,157 0,157" fill="#000"/></mask><g fill="none" stroke-width="1" mask="url(#lm)">
<path d="M181.0,20.0L112.5,88.5M88.5,112.5L20.0,181.0M20.0,205.0L88.5,273.5M112.5,297.5L181.0,366.0M205.0,366.0L273.5,297.5M297.5,273.5L366.0,205.0M366.0,181.0L297.5,112.5M273.5,88.5L205.0,20.0M181.0,460.0L112.5,528.5M88.5,552.5L20.0,621.0M20.0,645.0L88.5,713.5M112.5,737.5L181.0,806.0M205.0,806.0L273.5,737.5M297.5,713.5L366.0,645.0M366.0,621.0L297.5,552.5M273.5,528.5L205.0,460.0M623.0,20.0L554.5,88.5M530.5,112.5L462.0,181.0M462.0,205.0L530.5,273.5M554.5,297.5L623.0,366.0M647.0,366.0L715.5,297.5M739.5,273.5L808.0,205.0M808.0,181.0L739.5,112.5M715.5,88.5L647.0,20.0M623.0,460.0L554.5,528.5M530.5,552.5L462.0,621.0M462.0,645.0L530.5,713.5M554.5,737.5L623.0,806.0M647.0,806.0L715.5,737.5M739.5,713.5L808.0,645.0M808.0,621.0L739.5,552.5M715.5,528.5L647.0,460.0M91.1,100.5l9.4,-9.4l9.4,9.4l-9.4,9.4zM91.1,285.5l9.4,-9.4l9.4,9.4l-9.4,9.4zM276.1,285.5l9.4,-9.4l9.4,9.4l-9.4,9.4zM276.1,100.5l9.4,-9.4l9.4,9.4l-9.4,9.4zM183.6,8.0l9.4,-9.4l9.4,9.4l-9.4,9.4zM-1.4,193.0l9.4,-9.4l9.4,9.4l-9.4,9.4zM91.1,540.5l9.4,-9.4l9.4,9.4l-9.4,9.4zM91.1,725.5l9.4,-9.4l9.4,9.4l-9.4,9.4zM276.1,725.5l9.4,-9.4l9.4,9.4l-9.4,9.4zM276.1,540.5l9.4,-9.4l9.4,9.4l-9.4,9.4zM183.6,448.0l9.4,-9.4l9.4,9.4l-9.4,9.4zM-1.4,633.0l9.4,-9.4l9.4,9.4l-9.4,9.4zM533.1,100.5l9.4,-9.4l9.4,9.4l-9.4,9.4zM533.1,285.5l9.4,-9.4l9.4,9.4l-9.4,9.4zM718.1,285.5l9.4,-9.4l9.4,9.4l-9.4,9.4zM718.1,100.5l9.4,-9.4l9.4,9.4l-9.4,9.4zM625.6,8.0l9.4,-9.4l9.4,9.4l-9.4,9.4zM440.6,193.0l9.4,-9.4l9.4,9.4l-9.4,9.4zM533.1,540.5l9.4,-9.4l9.4,9.4l-9.4,9.4zM533.1,725.5l9.4,-9.4l9.4,9.4l-9.4,9.4zM718.1,725.5l9.4,-9.4l9.4,9.4l-9.4,9.4zM718.1,540.5l9.4,-9.4l9.4,9.4l-9.4,9.4zM625.6,448.0l9.4,-9.4l9.4,9.4l-9.4,9.4zM440.6,633.0l9.4,-9.4l9.4,9.4l-9.4,9.4z" stroke="rgba(0,0,0,0.03)"/>
<path d="M181.0,20.0L112.5,88.5M88.5,112.5L20.0,181.0M20.0,205.0L88.5,273.5M112.5,297.5L181.0,366.0M205.0,366.0L273.5,297.5M297.5,273.5L366.0,205.0M366.0,181.0L297.5,112.5M273.5,88.5L205.0,20.0M181.0,460.0L112.5,528.5M88.5,552.5L20.0,621.0M20.0,645.0L88.5,713.5M112.5,737.5L181.0,806.0M205.0,806.0L273.5,737.5M297.5,713.5L366.0,645.0M366.0,621.0L297.5,552.5M273.5,528.5L205.0,460.0M623.0,20.0L554.5,88.5M530.5,112.5L462.0,181.0M462.0,205.0L530.5,273.5M554.5,297.5L623.0,366.0M647.0,366.0L715.5,297.5M739.5,273.5L808.0,205.0M808.0,181.0L739.5,112.5M715.5,88.5L647.0,20.0M623.0,460.0L554.5,528.5M530.5,552.5L462.0,621.0M462.0,645.0L530.5,713.5M554.5,737.5L623.0,806.0M647.0,806.0L715.5,737.5M739.5,713.5L808.0,645.0M808.0,621.0L739.5,552.5M715.5,528.5L647.0,460.0M91.1,100.5l9.4,-9.4l9.4,9.4l-9.4,9.4zM91.1,285.5l9.4,-9.4l9.4,9.4l-9.4,9.4zM276.1,285.5l9.4,-9.4l9.4,9.4l-9.4,9.4zM276.1,100.5l9.4,-9.4l9.4,9.4l-9.4,9.4zM183.6,8.0l9.4,-9.4l9.4,9.4l-9.4,9.4zM-1.4,193.0l9.4,-9.4l9.4,9.4l-9.4,9.4zM91.1,540.5l9.4,-9.4l9.4,9.4l-9.4,9.4zM91.1,725.5l9.4,-9.4l9.4,9.4l-9.4,9.4zM276.1,725.5l9.4,-9.4l9.4,9.4l-9.4,9.4zM276.1,540.5l9.4,-9.4l9.4,9.4l-9.4,9.4zM183.6,448.0l9.4,-9.4l9.4,9.4l-9.4,9.4zM-1.4,633.0l9.4,-9.4l9.4,9.4l-9.4,9.4zM533.1,100.5l9.4,-9.4l9.4,9.4l-9.4,9.4zM533.1,285.5l9.4,-9.4l9.4,9.4l-9.4,9.4zM718.1,285.5l9.4,-9.4l9.4,9.4l-9.4,9.4zM718.1,100.5l9.4,-9.4l9.4,9.4l-9.4,9.4zM625.6,8.0l9.4,-9.4l9.4,9.4l-9.4,9.4zM440.6,193.0l9.4,-9.4l9.4,9.4l-9.4,9.4zM533.1,540.5l9.4,-9.4l9.4,9.4l-9.4,9.4zM533.1,725.5l9.4,-9.4l9.4,9.4l-9.4,9.4zM718.1,725.5l9.4,-9.4l9.4,9.4l-9.4,9.4zM718.1,540.5l9.4,-9.4l9.4,9.4l-9.4,9.4zM625.6,448.0l9.4,-9.4l9.4,9.4l-9.4,9.4zM440.6,633.0l9.4,-9.4l9.4,9.4l-9.4,9.4z" stroke="rgba(255,255,255,0.22)"/>
</g>
</svg>
</body></html>
